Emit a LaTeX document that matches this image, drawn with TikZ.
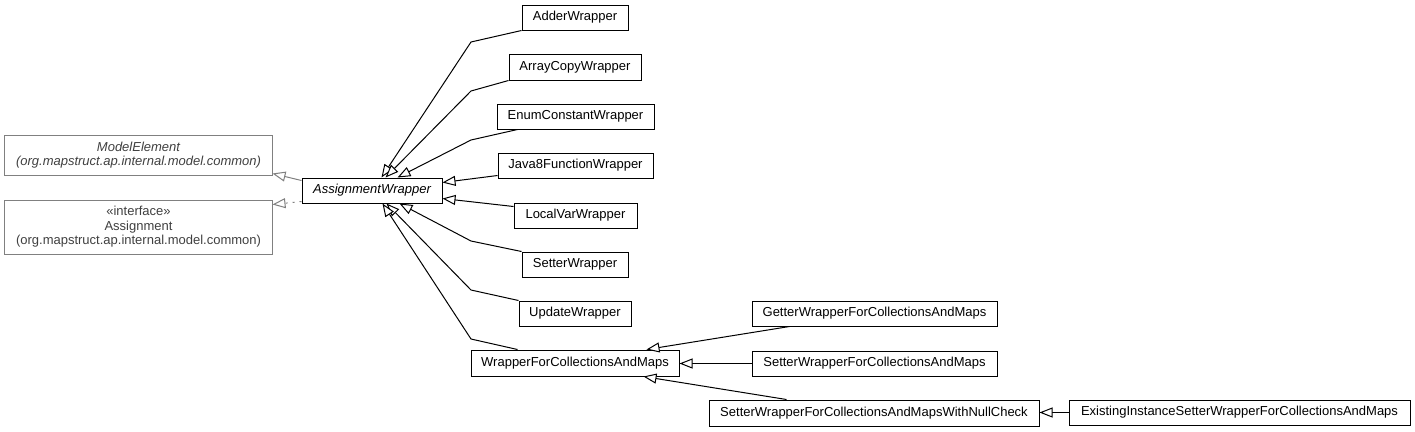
\documentclass[tikz,border=0pt]{standalone}
\usepackage{fontspec}
\setmainfont{Liberation Sans}
\usetikzlibrary{arrows.meta,calc}
\definecolor{grayline}{HTML}{808080}
\definecolor{graytext}{HTML}{404040}
\tikzset{
  cls/.style={draw=black, line width=1bp, fill=white, inner sep=0pt, minimum height=25bp, align=center, font=\fontsize{13bp}{14.5bp}\selectfont},
  ext/.style={draw=grayline, line width=1bp, fill=white, inner sep=0pt, align=center, text=graytext, font=\fontsize{13bp}{14.5bp}\selectfont},
  gen/.style={line width=1bp, draw=black, -{Triangle[open, length=13bp, width=10bp, fill=white]}},
  ggen/.style={line width=1bp, draw=grayline, -{Triangle[open, length=13bp, width=10bp, fill=white]}},
}
\begin{document}
\begin{tikzpicture}[x=1bp,y=-1bp]
\useasboundingbox (0,0) rectangle (1415,431);
% external classes
\node[ext, minimum width=267bp, minimum height=40bp] (me) at (138.5,155) {\itshape ModelElement\\\itshape (org.mapstruct.ap.internal.model.common)};
\node[ext, minimum width=267bp, minimum height=54bp] (as) at (138.5,227) {«interface»\\Assignment\\(org.mapstruct.ap.internal.model.common)};
% classes
\node[cls, minimum width=140bp] (aw) at (372,190.5) {\itshape AssignmentWrapper};
\node[cls, minimum width=106bp] (adder) at (575,17.5) {AdderWrapper};
\node[cls, minimum width=132bp, minimum height=26bp] (arr) at (575,67) {ArrayCopyWrapper};
\node[cls, minimum width=157bp] (enum) at (575.5,116.5) {EnumConstantWrapper};
\node[cls, minimum width=155bp] (java) at (575.5,165.5) {Java8FunctionWrapper};
\node[cls, minimum width=123bp] (local) at (575.5,215.5) {LocalVarWrapper};
\node[cls, minimum width=106bp] (setter) at (575,264.5) {SetterWrapper};
\node[cls, minimum width=112bp] (update) at (575,313.5) {UpdateWrapper};
\node[cls, minimum width=208bp, minimum height=26bp] (wfc) at (575,363) {WrapperForCollectionsAndMaps};
\node[cls, minimum width=245bp] (getter) at (874.5,313.5) {GetterWrapperForCollectionsAndMaps};
\node[cls, minimum width=245bp] (sfc) at (874.5,363.5) {SetterWrapperForCollectionsAndMaps};
\node[cls, minimum width=330bp, minimum height=26bp] (nc) at (874,413) {SetterWrapperForCollectionsAndMapsWithNullCheck};
\node[cls, minimum width=341bp] (ex) at (1239.5,412.5) {ExistingInstanceSetterWrapperForCollectionsAndMaps};
% connectors to AssignmentWrapper
\draw[gen] (adder.south west) -- (471,42) -- ($(aw.north west)+(80,0)$);
\draw[gen] (arr.south west) -- (471,91) -- ($(aw.north west)+(84,0)$);
\draw[gen] ($(enum.south west)+(21,0)$) -- (471,140) -- ($(aw.north west)+(96,0)$);
\draw[gen] ($(java.south west)+(0,-3)$) -- ($(aw.north east)+(0,5)$);
\draw[gen] ($(local.north west)+(0,4)$) -- ($(aw.south east)+(0,-5)$);
\draw[gen] (setter.north west) -- (471,241) -- ($(aw.south west)+(98,0)$);
\draw[gen] (update.north west) -- (471,290) -- ($(aw.south west)+(85,0)$);
\draw[gen] ($(wfc.north west)+(47,0)$) -- (471,339) -- ($(aw.south west)+(81,0)$);
% AssignmentWrapper to externals
\draw[ggen] ($(aw.north west)+(0,3)$) -- ($(me.south east)+(0,-2)$);
\draw[ggen, dash pattern=on 2bp off 5bp] ($(aw.south west)+(0,-2)$) -- ($(as.north east)+(0,5)$);
% collections
\draw[gen] ($(getter.south west)+(38,0)$) -- ($(wfc.north west)+(176,0)$);
\draw[gen] (sfc.west) -- (sfc.west -| wfc.east);
\draw[gen] ($(nc.north west)+(78,0)$) -- ($(wfc.south west)+(173,0)$);
\draw[gen] (ex.west) -- (ex.west -| nc.east);
\end{tikzpicture}
\end{document}
